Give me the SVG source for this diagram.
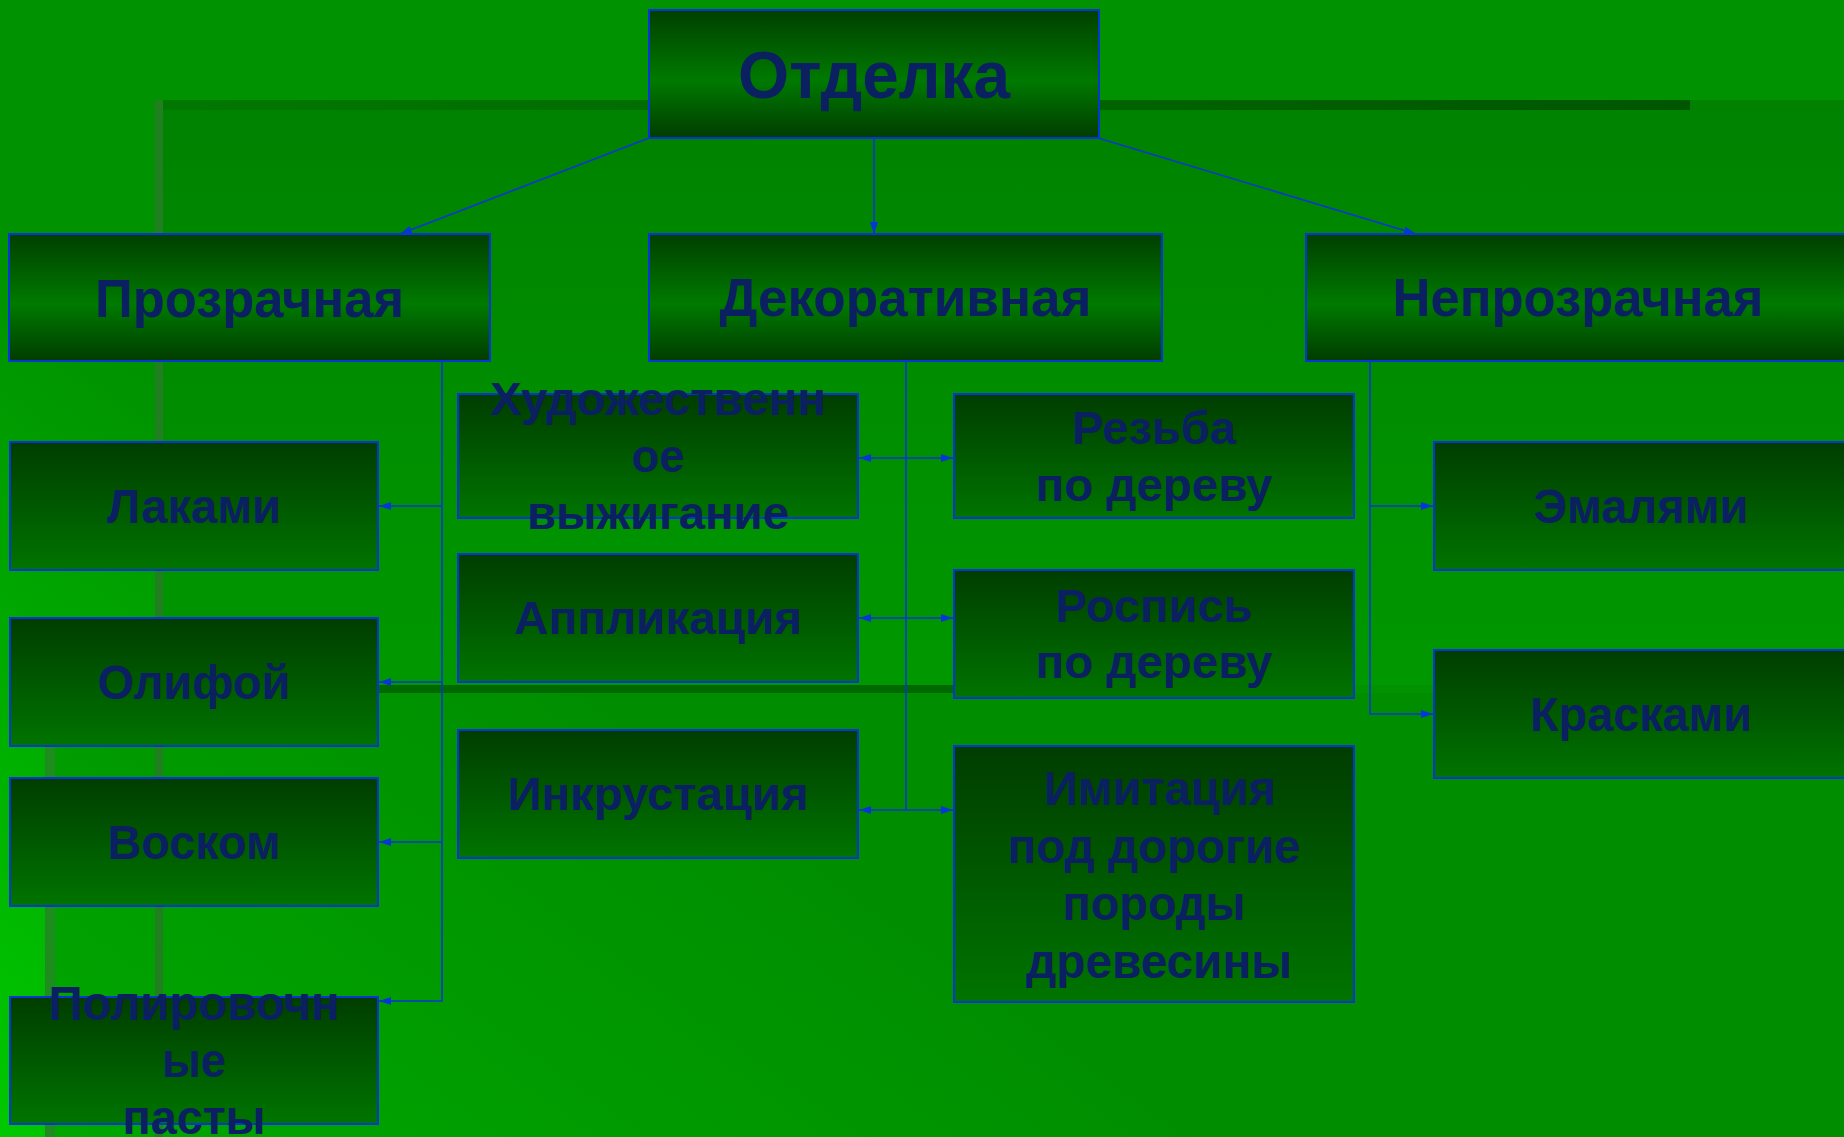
<svg xmlns="http://www.w3.org/2000/svg" width="1844" height="1137" viewBox="0 0 1844 1137">
<defs>
<linearGradient id="bg" gradientUnits="userSpaceOnUse" x1="0" y1="1137" x2="420" y2="560">
<stop offset="0" stop-color="#00c800"/><stop offset="1" stop-color="#009200"/>
</linearGradient>
<linearGradient id="rA" x1="0" y1="0" x2="0" y2="1">
<stop offset="0" stop-color="#008200"/><stop offset="1" stop-color="#009800"/>
</linearGradient>
<linearGradient id="h1" x1="0" y1="0" x2="1" y2="0">
<stop offset="0" stop-color="#007800"/><stop offset="1" stop-color="#005600"/>
</linearGradient>
<linearGradient id="gTop" x1="0" y1="0" x2="0" y2="1">
<stop offset="0" stop-color="#003f00"/><stop offset="0.55" stop-color="#007a00"/><stop offset="1" stop-color="#003c00"/>
</linearGradient>
<linearGradient id="gLow" x1="0" y1="0" x2="0" y2="1">
<stop offset="0" stop-color="#003d00"/><stop offset="1" stop-color="#007400"/>
</linearGradient>
<marker id="arr" viewBox="0 0 12 8" refX="12" refY="4" markerWidth="12" markerHeight="8" markerUnits="userSpaceOnUse" orient="auto-start-reverse">
<path d="M0,0 L12,4 L0,8 z" fill="#0636d6"/>
</marker>
<style>
.top{fill:url(#gTop);stroke:#0636d6;stroke-width:2}
.low{fill:url(#gLow);stroke:#0636d6;stroke-width:2}
.t{font-family:"Liberation Sans",Arial,sans-serif;font-weight:bold;fill:#0a2060;text-anchor:middle}
.big{font-size:66px}
.mid{font-size:54px}
.n{font-size:46px}
.r{font-size:48px}
.c{fill:none;stroke:#0636d6;stroke-width:1.6}
</style>
</defs>

<!-- background -->
<rect x="0" y="0" width="1844" height="1137" fill="url(#bg)"/>
<rect x="155" y="100" width="1689" height="585" fill="url(#rA)"/>
<rect x="55" y="693" width="1789" height="444" fill="#008a00" fill-opacity="0.5"/>
<rect x="155" y="100" width="1535" height="10" fill="url(#h1)"/>
<rect x="155" y="100" width="8" height="1037" fill="#217f21"/>
<rect x="45" y="685" width="1309" height="8" fill="#006800"/>
<rect x="45" y="685" width="10" height="452" fill="#1e8c1e"/>

<!-- connectors -->
<g id="connectors">
<path class="c" d="M649,138 L400,234" marker-end="url(#arr)"/>
<path class="c" d="M874,138 V234" marker-end="url(#arr)"/>
<path class="c" d="M1098,138 L1416,234" marker-end="url(#arr)"/>
<path class="c" d="M442,361 V1001 H379" marker-end="url(#arr)"/>
<path class="c" d="M442,506 H379" marker-end="url(#arr)"/>
<path class="c" d="M442,682 H379" marker-end="url(#arr)"/>
<path class="c" d="M442,842 H379" marker-end="url(#arr)"/>
<path class="c" d="M906,361 V810"/>
<path class="c" d="M859,458 H953" marker-start="url(#arr)" marker-end="url(#arr)"/>
<path class="c" d="M859,618 H953" marker-start="url(#arr)" marker-end="url(#arr)"/>
<path class="c" d="M859,810 H953" marker-start="url(#arr)" marker-end="url(#arr)"/>
<path class="c" d="M1370,361 V714 H1433" marker-end="url(#arr)"/>
<path class="c" d="M1370,506 H1433" marker-end="url(#arr)"/>
</g>

<!-- nodes -->
<g id="otdelka">
<rect class="top" x="649" y="10" width="450" height="128"/>
<text class="t big" x="874" y="98" textLength="272" lengthAdjust="spacingAndGlyphs">Отделка</text>
</g>
<g id="prozrachnaya">
<rect class="top" x="9" y="234" width="481" height="127"/>
<text class="t mid" x="249.5" y="317" textLength="309" lengthAdjust="spacingAndGlyphs">Прозрачная</text>
</g>
<g id="dekorativnaya">
<rect class="top" x="649" y="234" width="513" height="127"/>
<text class="t mid" x="905.5" y="316" textLength="372" lengthAdjust="spacingAndGlyphs">Декоративная</text>
</g>
<g id="neprozrachnaya">
<rect class="top" x="1306" y="234" width="544" height="127"/>
<text class="t mid" x="1578" y="316" textLength="371" lengthAdjust="spacingAndGlyphs">Непрозрачная</text>
</g>

<g id="lakami">
<rect class="low" x="10" y="442" width="368" height="128"/>
<text class="t r" x="194" y="523" textLength="174" lengthAdjust="spacingAndGlyphs">Лаками</text>
</g>
<g id="olifoy">
<rect class="low" x="10" y="618" width="368" height="128"/>
<text class="t r" x="194" y="699" textLength="193" lengthAdjust="spacingAndGlyphs">Олифой</text>
</g>
<g id="voskom">
<rect class="low" x="10" y="778" width="368" height="128"/>
<text class="t r" x="194" y="859" textLength="173" lengthAdjust="spacingAndGlyphs">Воском</text>
</g>
<g id="polirovochnye">
<rect class="low" x="10" y="997" width="368" height="127"/>
<text class="t r" x="194" y="1020" textLength="291" lengthAdjust="spacingAndGlyphs">Полировочн</text>
<text class="t r" x="194" y="1077" textLength="64" lengthAdjust="spacingAndGlyphs">ые</text>
<text class="t r" x="194" y="1134" textLength="143" lengthAdjust="spacingAndGlyphs">пасты</text>
</g>

<g id="vyzhiganie">
<rect class="low" x="458" y="394" width="400" height="124"/>
<text class="t n" x="658" y="415" textLength="336" lengthAdjust="spacingAndGlyphs">Художественн</text>
<text class="t n" x="658" y="472" textLength="53" lengthAdjust="spacingAndGlyphs">ое</text>
<text class="t n" x="658" y="529" textLength="262" lengthAdjust="spacingAndGlyphs">выжигание</text>
</g>
<g id="applikatsiya">
<rect class="low" x="458" y="554" width="400" height="128"/>
<text class="t n" x="658" y="634" textLength="288" lengthAdjust="spacingAndGlyphs">Аппликация</text>
</g>
<g id="inkrustatsiya">
<rect class="low" x="458" y="730" width="400" height="128"/>
<text class="t n" x="658" y="810" textLength="301" lengthAdjust="spacingAndGlyphs">Инкрустация</text>
</g>

<g id="rezba">
<rect class="low" x="954" y="394" width="400" height="124"/>
<text class="t n" x="1154" y="444" textLength="164" lengthAdjust="spacingAndGlyphs">Резьба</text>
<text class="t n" x="1154" y="501" textLength="237" lengthAdjust="spacingAndGlyphs">по дереву</text>
</g>
<g id="rospis">
<rect class="low" x="954" y="570" width="400" height="128"/>
<text class="t n" x="1154" y="622" textLength="197" lengthAdjust="spacingAndGlyphs">Роспись</text>
<text class="t n" x="1154" y="678" textLength="237" lengthAdjust="spacingAndGlyphs">по дереву</text>
</g>
<g id="imitatsiya">
<rect class="low" x="954" y="746" width="400" height="256"/>
<text class="t r" x="1160" y="805" textLength="232" lengthAdjust="spacingAndGlyphs">Имитация</text>
<text class="t r" x="1154" y="863" textLength="293" lengthAdjust="spacingAndGlyphs">под дорогие</text>
<text class="t r" x="1154" y="920" textLength="183" lengthAdjust="spacingAndGlyphs">породы</text>
<text class="t r" x="1159" y="978" textLength="266" lengthAdjust="spacingAndGlyphs">древесины</text>
</g>

<g id="emalyami">
<rect class="low" x="1434" y="442" width="414" height="128"/>
<text class="t r" x="1641" y="523" textLength="215" lengthAdjust="spacingAndGlyphs">Эмалями</text>
</g>
<g id="kraskami">
<rect class="low" x="1434" y="650" width="414" height="128"/>
<text class="t r" x="1641" y="731" textLength="222" lengthAdjust="spacingAndGlyphs">Красками</text>
</g>
</svg>
